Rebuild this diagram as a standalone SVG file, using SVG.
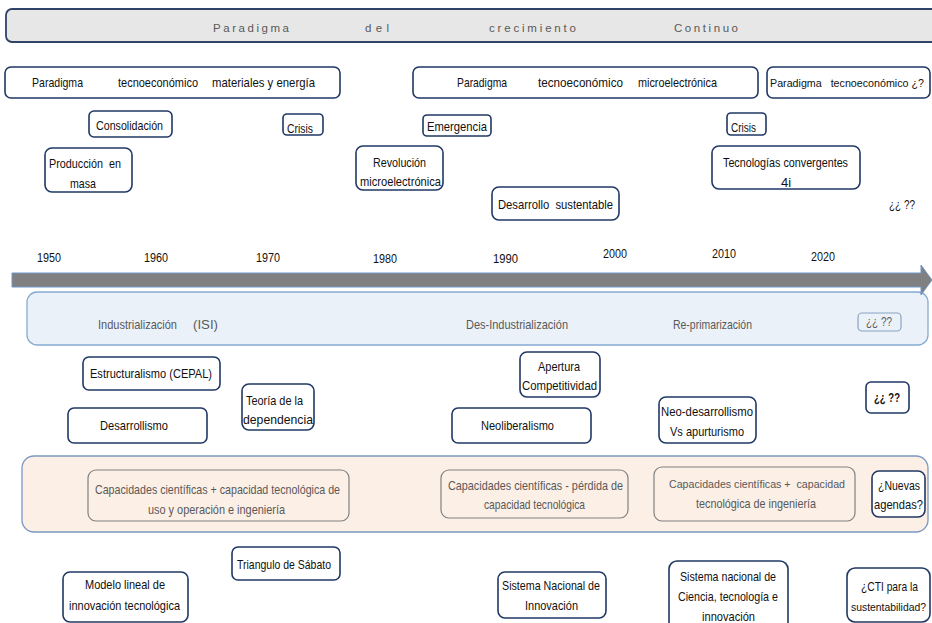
<svg xmlns="http://www.w3.org/2000/svg" width="932" height="623" viewBox="0 0 932 623">
<style>
text{font-family:"Liberation Sans",Arial,sans-serif;font-size:13px;fill:#111}
.g{fill:#595959}
.sp{font-size:11.5px;fill:#595959}
.b{font-weight:bold}
.s11{font-size:11px}
.s10{font-size:10.4px}
.n{fill:#fff;stroke:#203864;stroke-width:1.6}
.ni{fill:none;stroke:#808080;stroke-width:1.2}
.nb{fill:none;stroke:#8aa4c4;stroke-width:1.2}
</style>
<rect width="932" height="623" fill="#fff"/>
<g id="bands">
<rect x="6" y="9" width="936" height="33" rx="6" fill="#e7e7e7" stroke="#2f4468" stroke-width="1.8"/>
<text class="sp" x="213" y="32" textLength="76" lengthAdjust="spacing">Paradigma</text>
<text class="sp" x="365" y="32" textLength="24" lengthAdjust="spacing">del</text>
<text class="sp" x="489" y="32" textLength="87" lengthAdjust="spacing">crecimiento</text>
<text class="sp" x="674" y="32" textLength="64" lengthAdjust="spacing">Continuo</text>
<rect x="27" y="292" width="901" height="53" rx="10" fill="#eaf1f9" stroke="#86aad2" stroke-width="1.3"/>
<rect x="22" y="456" width="906" height="76" rx="12" fill="#fcefe6" stroke="#7a99c4" stroke-width="1.3"/>
</g>
<g id="connectors">
<path d="M12,273 H921 V265 L932,280 L921,295 V287 H12 Z" fill="#808080" stroke="#6f97c8" stroke-width="1"/>
</g>
<g id="years">
<text x="37" y="262" textLength="24" lengthAdjust="spacingAndGlyphs">1950</text>
<text x="144" y="262" textLength="24" lengthAdjust="spacingAndGlyphs">1960</text>
<text x="256" y="262" textLength="24" lengthAdjust="spacingAndGlyphs">1970</text>
<text x="373" y="263" textLength="24" lengthAdjust="spacingAndGlyphs">1980</text>
<text x="493" y="263" textLength="25" lengthAdjust="spacingAndGlyphs">1990</text>
<text x="603" y="258" textLength="24" lengthAdjust="spacingAndGlyphs">2000</text>
<text x="712" y="258" textLength="24" lengthAdjust="spacingAndGlyphs">2010</text>
<text x="811" y="261" textLength="24" lengthAdjust="spacingAndGlyphs">2020</text>
</g>
<g id="pt1"><rect class="n" x="5" y="67" width="335" height="31" rx="6"/>
<text x="32" y="87" textLength="51" lengthAdjust="spacingAndGlyphs">Paradigma</text>
<text x="118" y="87" textLength="80" lengthAdjust="spacingAndGlyphs">tecnoeconómico</text>
<text x="212" y="87" textLength="103" lengthAdjust="spacingAndGlyphs">materiales  y energía</text></g>
<g id="pt2"><rect class="n" x="413" y="67" width="345" height="31" rx="6"/>
<text x="457" y="87" textLength="50" lengthAdjust="spacingAndGlyphs">Paradigma</text>
<text x="538" y="87" textLength="85" lengthAdjust="spacingAndGlyphs">tecnoeconómico</text>
<text x="638" y="87" textLength="79" lengthAdjust="spacingAndGlyphs">microelectrónica</text></g>
<g id="pt3"><rect class="n" x="767" y="67" width="163" height="31" rx="6"/>
<text class="s10" x="770" y="87" textLength="154" lengthAdjust="spacingAndGlyphs">Paradigma&#160;&#160;&#160;tecnoeconómico ¿?</text></g>
<g id="consolidacion"><rect class="n" x="89" y="111" width="83" height="26" rx="5"/>
<text x="96" y="130" textLength="67" lengthAdjust="spacingAndGlyphs">Consolidación</text></g>
<g id="crisis1"><rect class="n" x="283" y="114" width="40" height="21" rx="4"/>
<text x="287" y="133" textLength="26" lengthAdjust="spacingAndGlyphs">Crisis</text></g>
<g id="emergencia"><rect class="n" x="423" y="115" width="68" height="21" rx="4"/>
<text x="427" y="131" textLength="60" lengthAdjust="spacingAndGlyphs">Emergencia</text></g>
<g id="produccion"><rect class="n" x="45" y="148" width="87" height="44" rx="7"/>
<text x="49" y="168" textLength="72" lengthAdjust="spacingAndGlyphs">Producción&#160;&#160;en</text>
<text x="70" y="188" textLength="26" lengthAdjust="spacingAndGlyphs">masa</text></g>
<g id="revolucion"><rect class="n" x="356" y="146" width="87" height="44" rx="7"/>
<text x="373" y="167" textLength="53" lengthAdjust="spacingAndGlyphs">Revolución</text>
<text x="360" y="186" textLength="81" lengthAdjust="spacingAndGlyphs">microelectrónica</text></g>
<g id="desarrollo-sust"><rect class="n" x="492" y="187" width="127" height="33" rx="7"/>
<text x="498" y="209" textLength="115" lengthAdjust="spacingAndGlyphs">Desarrollo&#160;&#160;sustentable</text></g>
<g id="crisis2"><rect class="n" x="727" y="113" width="39" height="22" rx="4"/>
<text x="731" y="132" textLength="25" lengthAdjust="spacingAndGlyphs">Crisis</text></g>
<g id="tecnologias"><rect class="n" x="712" y="146" width="148" height="43" rx="7"/>
<text x="723" y="167" textLength="125" lengthAdjust="spacingAndGlyphs">Tecnologías convergentes</text>
<text x="786" y="187" text-anchor="middle">4i</text></g>
<g id="q-top"><text x="889" y="209" textLength="26" lengthAdjust="spacingAndGlyphs">¿¿ ??</text></g>
<g id="isi-labels">
<text class="g" x="98" y="329" textLength="79" lengthAdjust="spacingAndGlyphs">Industrialización</text>
<text class="g" x="193" y="329" textLength="25" lengthAdjust="spacingAndGlyphs">(ISI)</text>
<text class="g" x="466" y="329" textLength="102" lengthAdjust="spacingAndGlyphs">Des-Industrialización</text>
<text class="g" x="673" y="329" textLength="79" lengthAdjust="spacingAndGlyphs">Re-primarización</text>
</g>
<g id="q-isi"><rect class="nb" x="858" y="313" width="43" height="18" rx="4"/>
<text class="g" x="866" y="326" textLength="26" lengthAdjust="spacingAndGlyphs">¿¿ ??</text></g>
<g id="estructuralismo"><rect class="n" x="83" y="357" width="137" height="33" rx="6"/>
<text x="90" y="378" textLength="122" lengthAdjust="spacingAndGlyphs">Estructuralismo (CEPAL)</text></g>
<g id="teoria"><rect class="n" x="242" y="384" width="72" height="46" rx="7"/>
<text x="246" y="405" textLength="57" lengthAdjust="spacingAndGlyphs">Teoría de la</text>
<text x="243" y="424" textLength="70" lengthAdjust="spacingAndGlyphs">dependencia</text></g>
<g id="desarrollismo"><rect class="n" x="68" y="408" width="139" height="35" rx="6"/>
<text x="100" y="430" textLength="68" lengthAdjust="spacingAndGlyphs">Desarrollismo</text></g>
<g id="neoliberalismo"><rect class="n" x="452" y="408" width="139" height="35" rx="6"/>
<text x="481" y="430" textLength="73" lengthAdjust="spacingAndGlyphs">Neoliberalismo</text></g>
<g id="apertura"><rect class="n" x="520" y="352" width="80" height="45" rx="7"/>
<text x="538" y="371" textLength="42" lengthAdjust="spacingAndGlyphs">Apertura</text>
<text x="522" y="390" textLength="75" lengthAdjust="spacingAndGlyphs">Competitividad</text></g>
<g id="neodesarrollismo"><rect class="n" x="659" y="397" width="97" height="46" rx="7"/>
<text x="661" y="416" textLength="92" lengthAdjust="spacingAndGlyphs">Neo-desarrollismo</text>
<text x="670" y="436" textLength="74" lengthAdjust="spacingAndGlyphs">Vs apurturismo</text></g>
<g id="q-bold"><rect class="n" x="866" y="382" width="43" height="31" rx="5"/>
<text class="b" x="874" y="402" textLength="26" lengthAdjust="spacingAndGlyphs">¿¿ ??</text></g>
<g id="cap1"><rect class="ni" x="88" y="470" width="261" height="51" rx="8"/>
<text class="g" x="95" y="494" textLength="245" lengthAdjust="spacingAndGlyphs">Capacidades científicas + capacidad tecnológica de</text>
<text class="g" x="148" y="514" textLength="137" lengthAdjust="spacingAndGlyphs">uso y operación e ingeniería</text></g>
<g id="cap2"><rect class="ni" x="441" y="470" width="187" height="48" rx="8"/>
<text class="g" x="448" y="490" textLength="175" lengthAdjust="spacingAndGlyphs">Capacidades científicas - pérdida de</text>
<text class="g" x="484" y="509" textLength="101" lengthAdjust="spacingAndGlyphs">capacidad tecnológica</text></g>
<g id="cap3"><rect class="ni" x="654" y="467" width="201" height="54" rx="8"/>
<text class="g s11" x="669" y="488" textLength="176" lengthAdjust="spacingAndGlyphs">Capacidades científicas +&#160;&#160;capacidad</text>
<text class="g" x="696" y="508" textLength="120" lengthAdjust="spacingAndGlyphs">tecnológica de ingeniería</text></g>
<g id="nuevas"><rect class="n" x="872" y="471" width="53" height="46" rx="7"/>
<text x="878" y="490" textLength="42" lengthAdjust="spacingAndGlyphs">¿Nuevas</text>
<text x="874" y="509" textLength="49" lengthAdjust="spacingAndGlyphs">agendas?</text></g>
<g id="sabato"><rect class="n" x="232" y="547" width="108" height="33" rx="6"/>
<text x="237" y="569" textLength="94" lengthAdjust="spacingAndGlyphs">Triangulo de Sábato</text></g>
<g id="modelo"><rect class="n" x="63" y="572" width="125" height="50" rx="7"/>
<text x="85" y="589" textLength="80" lengthAdjust="spacingAndGlyphs">Modelo lineal de</text>
<text x="69" y="610" textLength="111" lengthAdjust="spacingAndGlyphs">innovación tecnológica</text></g>
<g id="sni"><rect class="n" x="498" y="572" width="108" height="46" rx="7"/>
<text x="502" y="590" textLength="98" lengthAdjust="spacingAndGlyphs">Sistema Nacional de</text>
<text x="525" y="610" textLength="53" lengthAdjust="spacingAndGlyphs">Innovación</text></g>
<g id="sncti"><rect class="n" x="669" y="561" width="119" height="70" rx="8"/>
<text x="680" y="581" textLength="96" lengthAdjust="spacingAndGlyphs">Sistema nacional de</text>
<text x="678" y="601" textLength="100" lengthAdjust="spacingAndGlyphs">Ciencia, tecnología e</text>
<text x="702" y="621" textLength="53" lengthAdjust="spacingAndGlyphs">innovación</text></g>
<g id="cti"><rect class="n" x="847" y="568" width="83" height="54" rx="8"/>
<text x="861" y="591" textLength="57" lengthAdjust="spacingAndGlyphs">¿CTI para la</text>
<text class="s10" x="851" y="611" textLength="75" lengthAdjust="spacingAndGlyphs">sustentabilidad?</text></g>
</svg>
